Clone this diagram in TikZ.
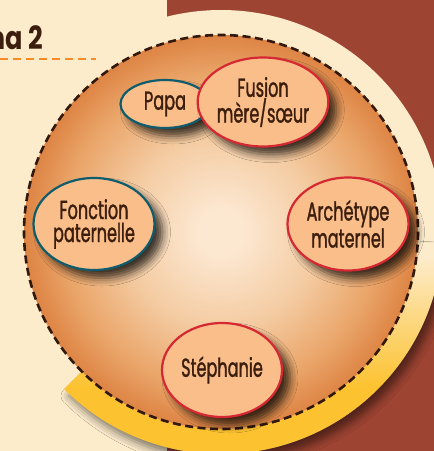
\documentclass[tikz,border=0pt]{standalone}
\usepackage{fontspec}
\usetikzlibrary{shapes.geometric, shadows.blur, calc}

\newfontfamily\bubblefont[FakeStretch=0.62, FakeBold=1.2]{Poppins}
\newfontfamily\headfont[FakeStretch=0.8]{Poppins}

\definecolor{paper}{RGB}{253,236,204}
\definecolor{brick}{RGB}{158,68,50}
\definecolor{gold}{RGB}{252,194,48}
\definecolor{peach}{RGB}{249,190,137}
\definecolor{petrol}{RGB}{14,92,110}
\definecolor{crimson}{RGB}{213,40,50}
\definecolor{ink}{RGB}{60,30,15}
\definecolor{tangerine}{RGB}{245,140,40}
\definecolor{disccore}{RGB}{252,231,208}
\definecolor{discmid}{RGB}{244,204,163}
\definecolor{discwarm}{RGB}{234,165,105}
\definecolor{discrim}{RGB}{221,132,68}

% the path box spans 25bp around the centre
\pgfdeclareradialshading{discglow}{\pgfpoint{0bp}{0bp}}{color(0bp)=(disccore); color(3bp)=(disccore); color(12bp)=(discmid); color(20bp)=(discwarm); color(25bp)=(discrim); color(50bp)=(discrim)}
\pgfdeclareverticalshading{bandfade}{100bp}{color(0bp)=(gold); color(44bp)=(gold); color(72bp)=(paper); color(100bp)=(paper)}

\begin{document}
\begin{tikzpicture}[x=1pt, y=-1pt,
    bubble/.style={ellipse, draw, line width=2.2pt, fill=peach, text=ink, align=center,
        inner sep=0pt, font=\bubblefont\fontsize{26}{23}\selectfont,
        blur shadow={shadow xshift=8pt, shadow yshift=-8pt, shadow blur radius=8pt, shadow opacity=75}},
    father/.style={bubble, draw=petrol},
    mother/.style={bubble, draw=crimson},
    ring/.style={draw=ink!85!black, line width=2.6pt, dash pattern=on 8pt off 4.5pt},
    band/.style={blur shadow={shadow xshift=5pt, shadow yshift=-7pt, shadow blur radius=8pt, shadow opacity=50}}
]
\useasboundingbox (0,0) rectangle (434,451);
\clip (0,0) rectangle (434,451);

% Background
\fill[paper] (0,0) rectangle (434,451);
\fill[brick] (167,0) rectangle (434,451);
\coordinate (c) at (221,232);
\fill[paper] (c) circle[radius=222];

% Yellow band below the disc
\path[band, shading=bandfade] ($(c)+(3:197)$) arc[start angle=3, end angle=135, radius=197]
    -- ($(c)+(135:222)$) arc[start angle=135, end angle=3, radius=222] -- cycle;

% Main disc
\path[shading=discglow] (c) circle[radius=197];
\draw[ring] (c) circle[radius=197];

% Heading
\node[anchor=base east, inner sep=0pt, text=ink, font=\headfont\bfseries\fontsize{32}{32}\selectfont] (title) at (43,49) {Schéma 2};
\coordinate (rulestart) at (0,59);
\coordinate (ruleend) at (96,59);
\draw[tangerine, line width=2.4pt, dash pattern=on 8pt off 5pt] (rulestart) -- (ruleend);

% Bubbles
\node[father, minimum width=89pt, minimum height=48pt] (papa) at (165,104) {Papa};
\node[mother, minimum width=119pt, minimum height=89pt] (fusion) at (263,102) {Fusion\\mère/sœur};
\node[father, minimum width=121pt, minimum height=92pt] (fonction) at (94,224) {Fonction\\paternelle};
\node[mother, minimum width=121pt, minimum height=93pt] (archetype) at (348,224) {Archétype\\maternel};
\node[mother, minimum width=120pt, minimum height=94pt] (stephanie) at (222,370) {Stéphanie};

\end{tikzpicture}
\end{document}
